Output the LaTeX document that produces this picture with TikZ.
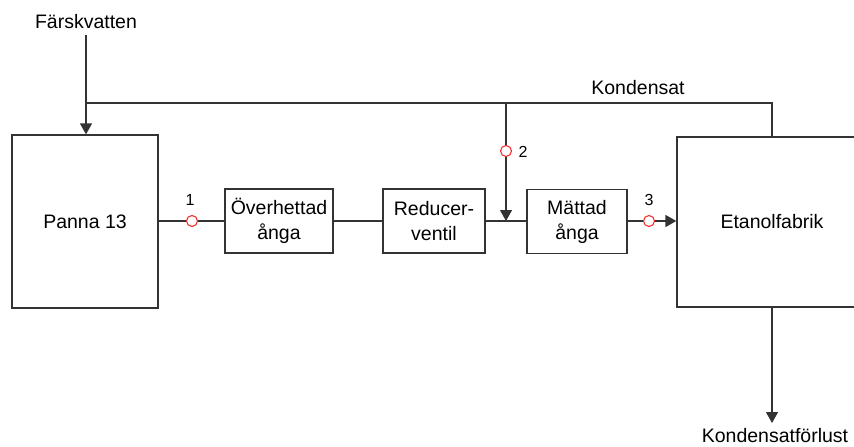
\documentclass[tikz,border=0pt]{standalone}
\usepackage{fontspec}
\setmainfont{Liberation Sans}
\usetikzlibrary{arrows.meta}
\definecolor{linec}{HTML}{333333}
\definecolor{circc}{HTML}{F03030}
\begin{document}
\begin{tikzpicture}[x=1pt,y=-1pt,
  box/.style={draw=linec,line width=1.3pt,fill=white,inner sep=0pt,align=center,font=\fontsize{19.5}{25}\selectfont},
  lbl/.style={inner sep=0pt,font=\fontsize{19.5}{24}\selectfont},
  num/.style={inner sep=0pt,font=\fontsize{16}{18}\selectfont},
  circ/.style={circle,draw=circc,line width=1.1pt,fill=white,minimum size=11pt,inner sep=0pt},
  conn/.style={draw=linec,line width=1.3pt},
  arr/.style={conn,-{Triangle[width=12pt,length=11pt]}}]
\useasboundingbox (0,0) rectangle (854,447);
\clip (0,0) rectangle (854,447);
% boxes
\node[box,minimum width=146pt,minimum height=173pt] (panna) at (85,221.5) {Panna 13};
\node[box,minimum width=108pt,minimum height=64pt] (over) at (279,221) {Överhettad\\ånga};
\node[box,minimum width=102pt,minimum height=64pt] (red) at (434,221) {Reducer-\\ventil};
\node[box,minimum width=100pt,minimum height=64pt] (matt) at (577,221.5) {Mättad\\ånga};
\node[box,minimum width=190pt,minimum height=170pt] (etan) at (772,222) {Etanolfabrik};
% labels
\node[lbl] (fv) at (86,22) {Färskvatten};
\node[lbl] (kond) at (638,88) {Kondensat};
\node[lbl] (kf) at (775,436) {Kondensatförlust};
% measurement points
\node[circ] (c1) at (192,221) {};
\node[circ] (c2) at (506,151) {};
\node[circ] (c3) at (649,221) {};
\node[num] (n1) at (190,200) {1};
\node[num] (n2) at (523,152) {2};
\node[num] (n3) at (649,200) {3};
% coordinates
\coordinate (fvb) at (86,35);
\coordinate (jl) at (86,103);
\coordinate (jm) at (506,103);
\coordinate (jr) at (772,103);
\coordinate (jd) at (506,221);
\coordinate (kfe) at (772,423);
% connectors
\draw[arr] (fvb) -- (panna.north -| fvb);
\draw[conn] (jl) -- (jr) -- (etan.north -| jr);
\draw[conn] (jm) -- (c2);
\draw[arr] (c2) -- (jd);
\draw[conn] (panna.east |- c1) -- (c1) -- (over.west |- c1);
\draw[conn] (over.east |- jd) -- (red.west |- jd);
\draw[conn] (red.east |- jd) -- (matt.west |- jd);
\draw[conn] (matt.east |- c3) -- (c3);
\draw[arr] (c3) -- (etan.west |- c3);
\draw[arr] (etan.south -| kfe) -- (kfe);
\end{tikzpicture}
\end{document}
